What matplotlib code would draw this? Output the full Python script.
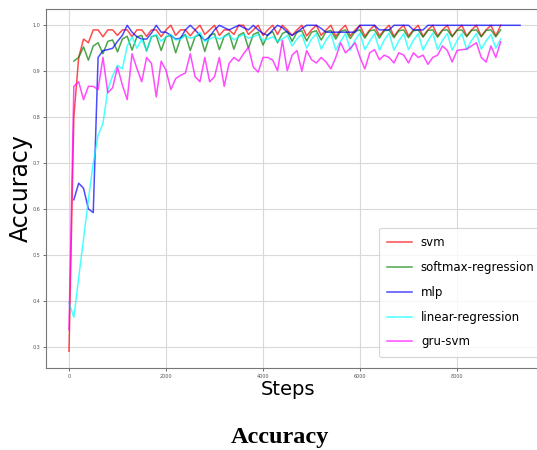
import numpy as np
import matplotlib
matplotlib.use('Agg')
import matplotlib.pyplot as plt
from matplotlib.ticker import FormatStrFormatter

plt.rcParams['font.family'] = 'DejaVu Sans'

# x 轴步数
steps = list(range(0, 9000, 100))
steps_mlp = list(range(0, 9400, 100))

svm = [0.29, 0.80, 0.93, 0.97, 0.962, 0.99, 0.99, 0.975, 0.99, 0.99,
       0.978, 0.99, 0.99, 0.975, 0.99, 0.99, 0.976, 0.99, 0.99, 0.975,
       0.99, 1.0, 0.978, 0.99, 0.99, 0.977, 0.99, 1.0, 0.98, 0.99,
       1.0, 0.978, 0.99, 0.99, 0.98, 1.0, 1.0, 0.98, 0.99, 1.0,
       0.978, 0.99, 1.0, 0.98, 1.0, 0.99, 0.978, 0.99, 1.0, 0.977,
       0.99, 1.0, 0.978, 0.99, 1.0, 0.976, 0.99, 1.0, 0.977, 0.99,
       1.0, 0.976, 0.99, 1.0, 0.977, 0.99, 1.0, 0.976, 0.99, 1.0,
       0.977, 0.99, 1.0, 0.976, 0.99, 1.0, 0.977, 0.99, 1.0, 0.976,
       0.99, 1.0, 0.977, 0.99, 1.0, 0.976, 0.99, 1.0, 0.977, 1.0]

softmax = [np.nan, 0.922, 0.930, 0.953, 0.924, 0.955, 0.962, 0.938, 0.965, 0.968,
           0.942, 0.970, 0.976, 0.946, 0.975, 0.978, 0.944, 0.975, 0.978, 0.945,
           0.975, 0.978, 0.940, 0.972, 0.980, 0.945, 0.975, 0.980, 0.943, 0.978,
           0.982, 0.947, 0.976, 0.983, 0.948, 0.978, 0.984, 0.950, 0.980, 0.985,
           0.957, 0.980, 0.986, 0.962, 0.982, 0.987, 0.965, 0.985, 0.988, 0.966,
           0.985, 0.988, 0.968, 0.986, 0.989, 0.970, 0.987, 0.990, 0.971, 0.987,
           0.990, 0.972, 0.988, 0.990, 0.972, 0.988, 0.990, 0.973, 0.988, 0.990,
           0.973, 0.988, 0.990, 0.974, 0.989, 0.990, 0.974, 0.989, 0.990, 0.975,
           0.989, 0.990, 0.975, 0.989, 0.990, 0.975, 0.989, 0.990, 0.975, 0.990]

mlp = [np.nan, 0.62, 0.656, 0.645, 0.60, 0.592, 0.93, 0.945, 0.947, 0.95,
       0.965, 0.978, 1.0, 0.985, 0.975, 0.97, 0.97, 0.983, 1.0, 0.985,
       0.985, 0.978, 0.97, 0.972, 0.99, 1.0, 0.99, 0.978, 0.967, 0.975,
       0.99, 1.0, 0.995, 0.99, 0.995, 1.0, 0.995, 0.99, 1.0, 0.99,
       0.982, 0.978, 0.99, 1.0, 0.995, 0.985, 0.978, 0.985, 0.993, 1.0,
       1.0, 1.0, 0.993, 0.985, 0.985, 0.985, 0.985, 0.985, 0.985, 0.985,
       1.0, 1.0, 1.0, 1.0, 0.99, 0.99, 0.99, 1.0, 1.0, 1.0,
       1.0, 0.99, 0.99, 0.99, 1.0, 1.0, 1.0, 1.0, 1.0, 1.0,
       1.0, 1.0, 1.0, 1.0, 1.0, 1.0, 1.0, 1.0, 1.0, 1.0,
       1.0, 1.0, 1.0, 1.0]

linear = [0.396, 0.364, 0.45, 0.535, 0.62, 0.70, 0.76, 0.786, 0.86, 0.89,
          0.913, 0.905, 0.955, 0.975, 0.95, 0.97, 0.945, 0.975, 0.98, 0.965,
          0.975, 0.98, 0.968, 0.97, 0.978, 0.972, 0.975, 0.985, 0.965, 0.97,
          0.975, 0.97, 0.975, 0.98, 0.968, 0.975, 0.98, 0.972, 0.975, 0.98,
          0.967, 0.97, 0.975, 0.965, 0.97, 0.978, 0.955, 0.97, 0.98, 0.95,
          0.97, 0.982, 0.948, 0.968, 0.982, 0.946, 0.965, 0.982, 0.946, 0.968,
          0.983, 0.947, 0.965, 0.982, 0.946, 0.968, 0.983, 0.946, 0.966, 0.982,
          0.947, 0.967, 0.982, 0.946, 0.966, 0.983, 0.947, 0.967, 0.982, 0.946,
          0.966, 0.982, 0.947, 0.967, 0.982, 0.948, 0.966, 0.98, 0.95, 0.97]

gru_svm = [0.337, 0.867, 0.877, 0.838, 0.867, 0.867, 0.860, 0.930, 0.853, 0.864,
           0.909, 0.870, 0.838, 0.938, 0.906, 0.877, 0.930, 0.917, 0.844, 0.922,
           0.902, 0.860, 0.884, 0.891, 0.896, 0.938, 0.888, 0.877, 0.930, 0.877,
           0.888, 0.930, 0.867, 0.917, 0.930, 0.922, 0.938, 0.952, 0.909, 0.898,
           0.930, 0.930, 0.924, 0.901, 0.967, 0.901, 0.935, 0.945, 0.900, 0.945,
           0.925, 0.918, 0.930, 0.920, 0.905, 0.930, 0.962, 0.940, 0.950, 0.962,
           0.930, 0.905, 0.940, 0.947, 0.925, 0.935, 0.930, 0.918, 0.940, 0.935,
           0.918, 0.940, 0.930, 0.935, 0.915, 0.930, 0.935, 0.955, 0.945, 0.920,
           0.945, 0.947, 0.948, 0.955, 0.962, 0.930, 0.920, 0.955, 0.930, 0.964]

labels = ['svm', 'softmax-regression', 'mlp', 'linear-regression', 'gru-svm']
colors = ['red', 'green', 'blue', 'cyan', 'magenta']
yticks = [0.3, 0.4, 0.5, 0.6, 0.7, 0.8, 0.9, 1.0]
xticks = [0, 2000, 4000, 6000, 8000]

fig = plt.figure(figsize=(5.37, 4.5), dpi=100)
ax = fig.add_axes([46 / 537, 1 - 368 / 450, 499 / 537, 359 / 450])

series = [(steps, svm), (steps, softmax), (steps_mlp, mlp), (steps, linear), (steps, gru_svm)]
for (x, y), lab, c in zip(series, labels, colors):
    ax.plot(x, y, color=c, lw=1.1, alpha=0.7, label=lab)

ax.set_xlim(-474, 9814)
ax.set_ylim(0.2535, 1.0355)
ax.set_xticks(xticks)
ax.set_yticks(yticks)
ax.yaxis.set_major_formatter(FormatStrFormatter('%.1f'))

ax.grid(True, color='#d9d9d9', lw=0.8)
ax.set_axisbelow(True)
for s in ['left', 'bottom', 'top']:
    ax.spines[s].set_color('#777777')
    ax.spines[s].set_linewidth(0.8)
ax.spines['right'].set_visible(False)
ax.tick_params(labelsize=3.5, colors='#555555', length=2.5, width=0.6, pad=1.5)

ax.set_xlabel('Steps', fontsize=14)
ax.xaxis.set_label_coords(0.484, -0.033)
ax.set_ylabel('Accuracy', fontsize=17)
ax.yaxis.set_label_coords(-0.026, 0.5)

leg = ax.legend(loc='upper left', bbox_to_anchor=(379 / 537, 1 - 228 / 450),
                bbox_transform=fig.transFigure, fontsize=8.5, labelspacing=1.0,
                handlelength=2.1, handletextpad=0.75, borderpad=0.7, borderaxespad=0)
leg.get_frame().set_edgecolor('#cccccc')
leg.get_frame().set_linewidth(0.8)

# 底部图题
fig.text(280 / 537, 1 - 443 / 450, 'Accuracy', ha='center', va='baseline',
         fontsize=17.5, fontweight='bold', family='Liberation Serif')

fig.savefig('out.png', dpi=100)
